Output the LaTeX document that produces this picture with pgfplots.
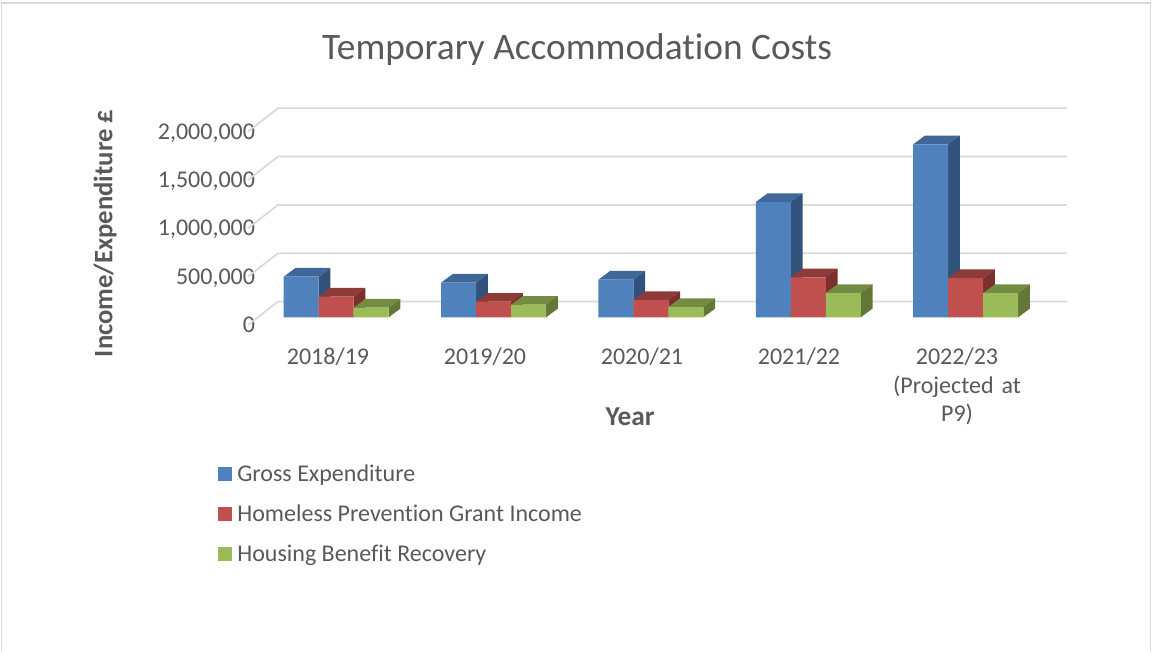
\documentclass[border=0pt]{standalone}
\usepackage{pgfplots}
\usepackage{fontspec}
\setmainfont[Ligatures=NoCommon]{Carlito}
\pgfplotsset{compat=1.18}
\definecolor{txt}{HTML}{595959}
\definecolor{gridc}{HTML}{D9D9D9}
\definecolor{blueF}{HTML}{4F81BD}
\definecolor{blueT}{HTML}{3F6797}
\definecolor{blueS}{HTML}{31527B}
\definecolor{redF}{HTML}{C0504D}
\definecolor{redT}{HTML}{8E3A38}
\definecolor{redS}{HTML}{7C302E}
\definecolor{greenF}{HTML}{9BBB59}
\definecolor{greenT}{HTML}{748C42}
\definecolor{greenS}{HTML}{637838}
\pgfplotsset{
    legendsq/.style={legend image code/.code={\fill[##1] (0pt,-5.25pt) rectangle (10.5pt,5.25pt); \path (12.75pt,0pt);}},
    frontbar/.style={ybar, bar shift=0pt, bar width=26.25pt, draw=none, legendsq},
}
% depth of a bar: 11.7 px across, 90000 up. #1 left edge, #2 value
\newcommand{\barside}[4]{%
    \addplot[fill=#3, draw=none, forget plot] coordinates {(#1,#2) (#1+11.7,#2+90000) (#1+46.7,#2+90000) (#1+35,#2)} --cycle;
    \addplot[fill=#4, draw=none, forget plot] coordinates {(#1+35,0) (#1+46.7,90000) (#1+46.7,#2+90000) (#1+35,#2)} --cycle;
}
\newcommand{\gridline}[1]{%
    \addplot[gridc, line width=1.3pt, forget plot] coordinates {(248,#1-79600) (278,#1+162350) (1067,#1+162350)};
}
\begin{document}
\begin{tikzpicture}
\begin{axis}[
    at={(0,0)}, anchor=south west,
    scale only axis, width=864pt, height=489pt,
    xmin=0, xmax=1152, ymin=-3461200, ymax=3281300,
    axis line style={draw=none}, tick style={draw=none},
    clip=false,
    font=\fontsize{18pt}{21.5pt}\selectfont,
    /pgf/number format/assume math mode=true,
    ytick={0,500000,1000000,1500000,2000000},
    scaled y ticks=false,
    yticklabel style={/pgf/number format/fixed, /pgf/number format/1000 sep={,}, text=txt, anchor=base east, xshift=194.8pt, yshift=-11.4pt},
    xtick={328,485,642,799,957},
    xticklabels={2018/19,2019/20,2020/21,2021/22,{2022/23\\(Projected at\\P9)}},
    xticklabel style={text=txt, align=center, yshift=231.75pt, text width=120pt},
    title={Temporary Accommodation Costs},
    title style={at={(axis description cs:0.5009,0.911)}, anchor=center, text=txt, font=\fontsize{28pt}{32pt}\selectfont},
    xlabel={\textbf{Year}},
    xlabel style={at={(axis description cs:0.547,0.3605)}, anchor=center, text=txt, font=\fontsize{20.5pt}{24pt}\selectfont},
    ylabel={\textbf{Income/Expenditure £}},
    ylabel style={at={(axis description cs:0.0912,0.642)}, anchor=center, text=txt, font=\fontsize{20pt}{24pt}\selectfont},
    legend style={at={(axis description cs:0.1887,0.2915)}, anchor=north west, draw=none, fill=none, text=txt, row sep=12pt, inner sep=0pt},
    legend cell align=left,
]
\gridline{0}
\gridline{500000}
\gridline{1000000}
\gridline{1500000}
\gridline{2000000}

\barside{283.7}{420000}{blueT}{blueS}
\barside{441.1}{358000}{blueT}{blueS}
\barside{598.4}{389000}{blueT}{blueS}
\barside{755.8}{1192000}{blueT}{blueS}
\barside{913.2}{1789000}{blueT}{blueS}
\addplot[frontbar, fill=blueF] coordinates {(301.2,420000) (458.6,358000) (615.9,389000) (773.3,1192000) (930.7,1789000)};
\addlegendentry{Gross Expenditure}

\barside{318.7}{213000}{redT}{redS}
\barside{476.1}{161000}{redT}{redS}
\barside{633.4}{179000}{redT}{redS}
\barside{790.8}{414000}{redT}{redS}
\barside{948.2}{406000}{redT}{redS}
\addplot[frontbar, fill=redF] coordinates {(336.2,213000) (493.6,161000) (650.9,179000) (808.3,414000) (965.7,406000)};
\addlegendentry{Homeless Prevention Grant Income}

\barside{353.7}{100000}{greenT}{greenS}
\barside{511.1}{130000}{greenT}{greenS}
\barside{668.4}{106000}{greenT}{greenS}
\barside{825.8}{251000}{greenT}{greenS}
\barside{983.2}{251000}{greenT}{greenS}
\addplot[frontbar, fill=greenF] coordinates {(371.2,100000) (528.6,130000) (685.9,106000) (843.3,251000) (1000.7,251000)};
\addlegendentry{Housing Benefit Recovery}
\end{axis}
% frame is cut off at the bottom in the reference
\draw[gridc, line width=1.1pt] (1.2pt,0pt) -- (1.2pt,486.8pt) -- (862.9pt,486.8pt) -- (862.9pt,0pt);
\end{tikzpicture}
\end{document}
